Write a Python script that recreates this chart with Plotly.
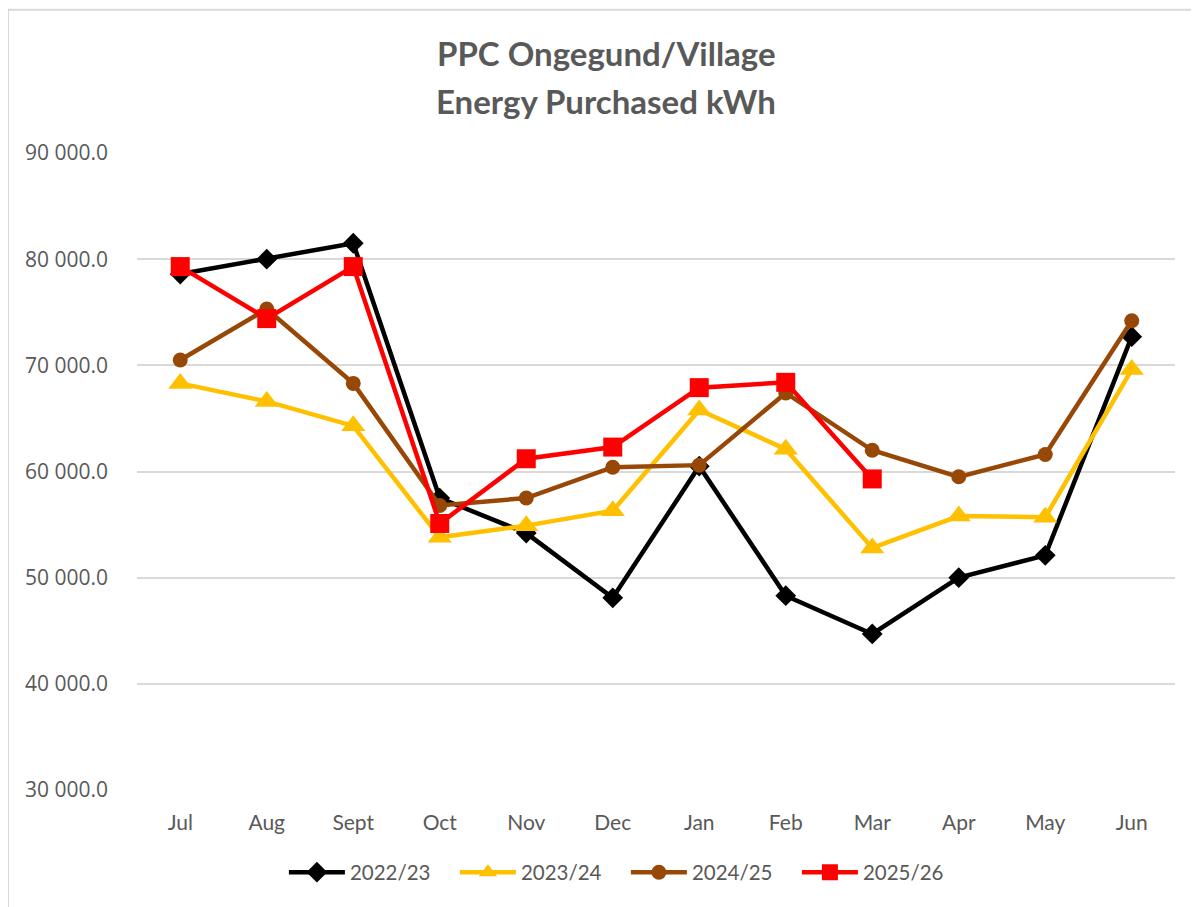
import plotly.graph_objects as go

months = ["Jul", "Aug", "Sept", "Oct", "Nov", "Dec", "Jan", "Feb", "Mar", "Apr", "May", "Jun"]
y2022_23 = [78600, 80000, 81500, 57500, 54200, 48100, 60500, 48300, 44700, 50000, 52100, 72700]
y2023_24 = [68300, 66600, 64300, 53800, 54900, 56300, 65800, 62100, 52800, 55800, 55700, 69600]
y2024_25 = [70500, 75300, 68300, 56800, 57500, 60400, 60600, 67400, 62000, 59500, 61600, 74200]
y2025_26 = [79300, 74400, 79300, 55100, 61200, 62300, 67900, 68400, 59300]
y_ticks = [30000, 40000, 50000, 60000, 70000, 80000, 90000]
y_tick_text = ["30 000.0", "40 000.0", "50 000.0", "60 000.0", "70 000.0", "80 000.0", "90 000.0"]
title_lines = ["PPC Ongegund/Village", "Energy Purchased kWh"]

series = [
    ("2022/23", y2022_23, "#000000", "diamond", 16),
    ("2023/24", y2023_24, "#FFC000", "triangle-up", 21),
    ("2024/25", y2024_25, "#974806", "circle", 15),
    ("2025/26", y2025_26, "#FF0000", "square", 19),
]

fig = go.Figure()
for name, vals, color, sym, size in series:
    fig.add_trace(go.Scatter(
        x=months[:len(vals)], y=vals, name=name, mode="lines+markers",
        line=dict(color=color, width=4.5),
        marker=dict(symbol=sym, size=size, color=color, line=dict(width=0)),
        hoverinfo="skip",
    ))

# page has an 8px body margin: figure origin sits at (8, 8) in the window
OFF = 8
W, H = 1199 - OFF, 907 - OFF
ml, mt = 137 - OFF, 152.5 - OFF
pw, ph = 1038, 638
mr, mb = W - ml - pw, H - mt - ph

def py_paper(ref_py):
    return (mt + ph - (ref_py - OFF)) / ph

def px_paper(ref_px):
    return ((ref_px - OFF) - ml) / pw

annotations = []
for line, ref_y in zip(title_lines, [52, 100]):
    annotations.append(dict(
        text="<b>%s</b>" % line, xref="paper", yref="paper",
        x=px_paper(606), y=py_paper(ref_y), xanchor="center", yanchor="middle",
        showarrow=False, font=dict(size=33, color="#595959", family="Lato, sans-serif"),
    ))

fig.update_layout(
    width=W, height=H,
    margin=dict(l=ml, r=mr, t=mt, b=mb, autoexpand=False),
    paper_bgcolor="white", plot_bgcolor="white",
    font=dict(family="Lato, Open Sans, sans-serif", color="#595959"),
    annotations=annotations,
    xaxis=dict(
        type="category", categoryorder="array", categoryarray=months,
        range=[-0.5, 11.5], showgrid=False, showline=False, zeroline=False,
        ticks="", ticklabelstandoff=18, tickfont=dict(size=21, color="#595959"),
    ),
    yaxis=dict(
        range=[30000, 90000], tickvals=y_ticks, ticktext=y_tick_text,
        showgrid=True, gridcolor="#D9D9D9", gridwidth=2, zeroline=False,
        showline=False, ticks="", ticklabelstandoff=28,
        tickfont=dict(size=21, color="#595959", family="Open Sans, sans-serif"),
    ),
    legend=dict(
        orientation="h", x=0.471, xanchor="center",
        y=py_paper(873), yanchor="middle",
        font=dict(size=20.5, color="#595959"),
        entrywidth=100, itemwidth=56,
    ),
    shapes=[dict(
        type="rect", xref="paper", yref="paper",
        x0=px_paper(OFF), x1=px_paper(1300),
        y0=py_paper(1000), y1=py_paper(OFF + 1),
        line=dict(color="#D9D9D9", width=2), fillcolor="rgba(0,0,0,0)",
        layer="below",
    )],
)

fig.write_html("out.html")
